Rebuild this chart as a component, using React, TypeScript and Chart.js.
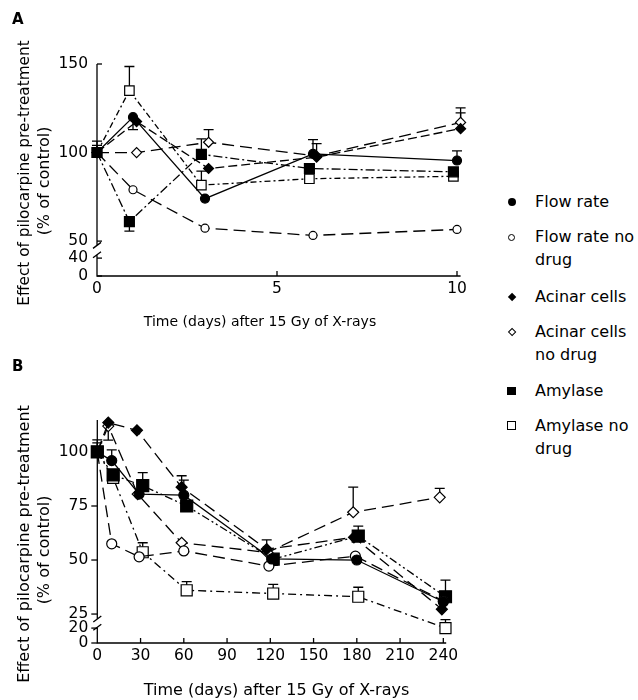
import React, { useEffect, useRef } from 'react';
import { Chart, registerables } from 'chart.js';
Chart.register(...registerables);

// ---------------- Panel A (days 0-10) ----------------
const daysFlowA = [0, 1, 3, 6, 10];
const daysAcinarA = [0, 1.1, 3.1, 6.1, 10.1];
const daysAmylaseA = [0, 0.9, 2.9, 5.9, 9.9];
const flowRateA = [100, 120, 74, 99.3, 95.5];
const flowRateNoDrugA = [100, 79, 57.3, 53.2, 56.6];
const acinarA = [100, 117.5, 91, 97.4, 113.5];
const acinarNoDrugA = [100, 100, 105.8, 98, 117];
const amylaseA = [100, 61, 99, 91, 89.1];
const amylaseNoDrugA = [100, 135, 81.6, 85.2, 86.6];
// error bar end values (one-sided)
const flowRateErrA = [106.4, 113, null, 107.3, 101];
const flowRateNoDrugErrA = [null, null, null, null, null];
const acinarErrA = [null, null, null, 105, 122.4];
const acinarNoDrugErrA = [104, null, 113, null, 125.2];
const amylaseErrA = [null, 55.6, 107.7, null, null];
const amylaseNoDrugErrA = [null, 148.6, 89.5, null, null];
const yTicksA = [0, 40, 50, 100, 150];
const xTicksA = [0, 5, 10];

// ---------------- Panel B (days 0-240) ----------------
const daysFlowB = [0, 10, 29, 60, 121, 180, 240];
const daysFlowNoDrugB = [0, 10, 29, 60, 119, 179, 240];
const daysAcinarB = [0, 7.6, 27.5, 58.5, 117.5, 178, 239];
const daysAcinarNoDrugB = [0, 7.6, 28, 58.5, 118, 177.5, 237.5];
const daysAmylaseB = [0, 11, 31.5, 62, 122, 181, 241.5];
const flowRateB = [100, 96, 80.5, 80, 50.5, 50, 30.7];
const flowRateNoDrugB = [100, 57.5, 51.5, 54.2, 47.2, 51.8, 31];
const acinarB = [100, 113.6, 110, 83.7, 55, 60.5, 27.2];
const acinarNoDrugB = [100, 112, 80.5, 58, 53.5, 72.1, 79];
const amylaseB = [100, 89.4, 84.4, 75, 50.4, 61.1, 33];
const amylaseNoDrugB = [100, 88, 53.6, 36, 34.5, 33, 20];
const flowRateErrB = [105.6, 101, null, 87, null, null, null];
const flowRateNoDrugErrB = [null, null, null, null, null, null, null];
const acinarErrB = [null, null, null, 89, 59.3, null, null];
const acinarNoDrugErrB = [104.2, 105.5, null, null, null, 83.7, 83.2];
const amylaseErrB = [null, null, 90.4, null, null, 65.7, 40.7];
const amylaseNoDrugErrB = [null, null, 58, 40, 38.7, 37.4, 23];
const yTicksB = [0, 20, 25, 50, 75, 100];
const xTicksB = [0, 30, 60, 90, 120, 150, 180, 210, 240];

const legendItems = [
  { lines: ['Flow rate'], marker: 'fcircle' },
  { lines: ['Flow rate no', 'drug'], marker: 'ocircle' },
  { lines: ['Acinar cells'], marker: 'fdiamond' },
  { lines: ['Acinar cells', 'no drug'], marker: 'odiamond' },
  { lines: ['Amylase'], marker: 'fsquare' },
  { lines: ['Amylase no', 'drug'], marker: 'osquare' },
];

const X_TITLE = 'Time (days) after 15 Gy of X-rays';
const Y_TITLE_1 = 'Effect of pilocarpine pre-treatment';
const Y_TITLE_2 = '(% of control)';

// broken-axis mappings (real value -> axis coordinate)
const toAxisA = (v: number) =>
  v >= 50 ? v : v >= 40 ? 40.4 + ((v - 40) / 10) * 9.6 : 30.3 + v * (10.1 / 40);
const toAxisB = (v: number) =>
  v >= 25 ? v : v >= 20 ? 18.5 + ((v - 20) / 5) * 6.5 : 11.6 + v * (6.9 / 20);

const FONT = '"DejaVu Sans", "Liberation Sans", Arial, sans-serif';

type Style = { dash: number[]; ps: string; fill: boolean; r: number };

function build(days: number[][], vals: number[][], errs: (number | null)[][], styles: Style[], toAxis: (v: number) => number) {
  return vals.map((v, k) => ({
    data: v.map((val, i) => ({ x: days[k][i], y: toAxis(val) })),
    errEnds: errs[k].map((e) => (e == null ? null : toAxis(e))),
    borderColor: '#000',
    borderWidth: 1.3,
    borderDash: styles[k].dash,
    pointStyle: styles[k].ps,
    pointRadius: styles[k].r,
    pointBackgroundColor: styles[k].fill ? '#000' : '#fff',
    pointBorderColor: '#000',
    pointBorderWidth: 1.2,
    fill: false,
    tension: 0,
    clip: false as any,
  }));
}

function framePlugin(cfg: any) {
  return {
    id: 'frame' + cfg.letter,
    beforeDatasetsDraw(chart: any) {
      const { ctx, chartArea: a } = chart;
      const xs = chart.scales.x;
      const ys = chart.scales.y;
      const L = a.left;
      const B = a.bottom;
      ctx.save();
      ctx.strokeStyle = '#000';
      ctx.fillStyle = '#000';
      ctx.lineWidth = 1.3;
      ctx.setLineDash([]);
      const b1 = ys.getPixelForValue(cfg.breakHi);
      const b2 = ys.getPixelForValue(cfg.breakLo);
      ctx.beginPath();
      ctx.moveTo(L, a.top);
      ctx.lineTo(L, b1);
      ctx.moveTo(L, b2);
      ctx.lineTo(L, B);
      ctx.lineTo(a.right, B);
      for (const p of [b1, b2]) {
        ctx.moveTo(L - 4, p + 3);
        ctx.lineTo(L + 4, p - 3);
      }
      ctx.stroke();
      ctx.font = cfg.tickFont;
      ctx.textAlign = 'right';
      ctx.textBaseline = 'middle';
      cfg.yTicks.forEach((t: number) => {
        const py = ys.getPixelForValue(cfg.toAxis(t));
        ctx.beginPath();
        ctx.moveTo(L, py);
        ctx.lineTo(L + cfg.yTickLen, py);
        ctx.stroke();
        ctx.fillText(String(t), L - 9, py);
      });
      ctx.textAlign = 'center';
      cfg.xTicks.forEach((t: number, i: number) => {
        const px = xs.getPixelForValue(t);
        if (i > 0) {
          ctx.beginPath();
          ctx.moveTo(px, B);
          ctx.lineTo(px, B - 5);
          ctx.stroke();
        }
        ctx.fillText(String(t), px, B + cfg.xLabelOffset);
      });
      // error bars
      chart.data.datasets.forEach((ds: any) => {
        ds.errEnds.forEach((e: number | null, i: number) => {
          if (e == null) return;
          const p = ds.data[i];
          const px = xs.getPixelForValue(p.x);
          const py0 = ys.getPixelForValue(p.y);
          const py1 = ys.getPixelForValue(e);
          ctx.beginPath();
          ctx.moveTo(px, py0);
          ctx.lineTo(px, py1);
          ctx.moveTo(px - 5, py1);
          ctx.lineTo(px + 5, py1);
          ctx.stroke();
        });
      });
      ctx.restore();
    },
    afterDraw(chart: any) {
      const { ctx } = chart;
      ctx.save();
      ctx.fillStyle = '#000';
      ctx.textBaseline = 'middle';
      ctx.textAlign = 'center';
      ctx.font = cfg.xTitleFont;
      ctx.fillText(X_TITLE, cfg.xTitleX, cfg.xTitleY);
      [[Y_TITLE_1, cfg.yT1x, cfg.yT1y, cfg.yTitleFont1], [Y_TITLE_2, cfg.yT2x, cfg.yT2y, cfg.yTitleFont2]].forEach(
        ([s, x, y, f]: any) => {
          ctx.save();
          ctx.font = f;
          ctx.translate(x, y);
          ctx.rotate(-Math.PI / 2);
          ctx.fillText(s, 0, 0);
          ctx.restore();
        }
      );
      ctx.font = 'bold 15px ' + FONT;
      ctx.textAlign = 'left';
      ctx.fillText(cfg.letter, 12, cfg.letterY);
      ctx.restore();
    },
  };
}

function Panel(props: any) {
  const ref = useRef<HTMLCanvasElement>(null);
  useEffect(() => {
    const chart = new Chart(ref.current as HTMLCanvasElement, {
      type: 'line',
      data: { datasets: props.makeDatasets() },
      options: {
        responsive: false,
        animation: false,
        devicePixelRatio: 1,
        events: [],
        layout: { padding: props.padding },
        plugins: { legend: { display: false }, tooltip: { enabled: false } },
        scales: {
          x: { type: 'linear', min: props.xMin, max: props.xMax, display: false },
          y: { type: 'linear', min: props.yMin, max: props.yMax, display: false },
        },
      } as any,
      plugins: [framePlugin(props.cfg)],
    });
    return () => chart.destroy();
  }, []);
  return (
    <canvas
      ref={ref}
      width={props.width}
      height={props.height}
      style={{ position: 'absolute', left: 0, top: props.top, width: props.width, height: props.height }}
    />
  );
}

const stylesA: Style[] = [
  { dash: [], ps: 'circle', fill: true, r: 4.5 },
  { dash: [12, 6], ps: 'circle', fill: false, r: 4 },
  { dash: [9, 4], ps: 'rectRot', fill: true, r: 5 },
  { dash: [12, 6], ps: 'rectRot', fill: false, r: 5 },
  { dash: [9, 3, 2, 3], ps: 'rect', fill: true, r: 7 },
  { dash: [6, 3, 2, 3], ps: 'rect', fill: false, r: 6.7 },
];
const stylesB: Style[] = [
  { dash: [], ps: 'circle', fill: true, r: 5 },
  { dash: [12, 6], ps: 'circle', fill: false, r: 5 },
  { dash: [12, 6], ps: 'rectRot', fill: true, r: 5.5 },
  { dash: [12, 6], ps: 'rectRot', fill: false, r: 5.5 },
  { dash: [8, 3, 2, 3, 2, 3], ps: 'rect', fill: true, r: 8.5 },
  { dash: [8, 4, 2, 4], ps: 'rect', fill: false, r: 7.8 },
];

const makeA = () =>
  build(
    [daysFlowA, daysFlowA, daysAcinarA, daysAcinarA, daysAmylaseA, daysAmylaseA],
    [flowRateA, flowRateNoDrugA, acinarA, acinarNoDrugA, amylaseA, amylaseNoDrugA],
    [flowRateErrA, flowRateNoDrugErrA, acinarErrA, acinarNoDrugErrA, amylaseErrA, amylaseNoDrugErrA],
    stylesA,
    toAxisA
  );
const makeB = () =>
  build(
    [daysFlowB, daysFlowNoDrugB, daysAcinarB, daysAcinarNoDrugB, daysAmylaseB, daysAmylaseB],
    [flowRateB, flowRateNoDrugB, acinarB, acinarNoDrugB, amylaseB, amylaseNoDrugB],
    [flowRateErrB, flowRateNoDrugErrB, acinarErrB, acinarNoDrugErrB, amylaseErrB, amylaseNoDrugErrB],
    stylesB,
    toAxisB
  );

const cfgA = {
  letter: 'A',
  letterY: 20,
  toAxis: toAxisA,
  yTicks: yTicksA,
  xTicks: xTicksA,
  breakHi: toAxisA(47.5),
  breakLo: toAxisA(42),
  yTickLen: 5,
  xLabelOffset: 13,
  tickFont: '15.5px ' + FONT,
  xTitleFont: '14px ' + FONT,
  xTitleX: 260,
  xTitleY: 322,
  yTitleFont1: '15.3px ' + FONT,
  yTitleFont2: '16px ' + FONT,
  yT1x: 25,
  yT1y: 173,
  yT2x: 45,
  yT2y: 181,
};
const cfgB = {
  letter: 'B',
  letterY: 27,
  toAxis: toAxisB,
  yTicks: yTicksB,
  xTicks: xTicksB,
  breakHi: toAxisB(23.2),
  breakLo: toAxisB(20.3),
  yTickLen: -6,
  xLabelOffset: 12.5,
  tickFont: '15.5px ' + FONT,
  xTitleFont: '16px ' + FONT,
  xTitleX: 276.5,
  xTitleY: 350.5,
  yTitleFont1: '16px ' + FONT,
  yTitleFont2: '16px ' + FONT,
  yT1x: 25,
  yT1y: 204,
  yT2x: 45,
  yT2y: 210,
};

function Marker({ kind, cx, cy }: { kind: string; cx: number; cy: number }) {
  const filled = kind[0] === 'f';
  const shape = kind.slice(1);
  let size = 8;
  const st: any = { position: 'absolute', boxSizing: 'border-box' };
  if (shape === 'circle') {
    size = filled ? 8 : 7.5;
    st.borderRadius = '50%';
  } else if (shape === 'diamond') {
    size = 6.2;
    st.transform = 'rotate(45deg)';
  } else {
    size = 8.5;
  }
  st.width = size;
  st.height = size;
  st.left = cx - size / 2;
  st.top = cy - size / 2;
  if (filled) st.background = '#000';
  else {
    st.background = '#fff';
    st.border = '1.3px solid #000';
  }
  return <div style={st} />;
}

export default function App() {
  const baselines = [207.3, 242.3, 302.3, 337.3, 396, 430.7];
  return (
    <div style={{ position: 'absolute', left: 0, top: 0, width: 638, height: 700, background: '#fff' }}>
      <Panel
        cfg={cfgA}
        makeDatasets={makeA}
        width={470}
        height={340}
        top={0}
        xMin={0}
        xMax={10.1}
        yMin={30.3}
        yMax={150}
        padding={{ left: 97, right: 9.4, top: 64, bottom: 64 }}
      />
      <Panel
        cfg={cfgB}
        makeDatasets={makeB}
        width={470}
        height={360}
        top={340}
        xMin={0}
        xMax={242}
        yMin={11.6}
        yMax={114.8}
        padding={{ left: 97.3, right: 23.8, top: 80, bottom: 57 }}
      />
      {legendItems.map((it, i) => (
        <React.Fragment key={i}>
          <Marker kind={it.marker} cx={511.7} cy={baselines[i] - 5} />
          <div
            style={{
              position: 'absolute',
              left: 535,
              top: baselines[i] - 17,
              font: '16px ' + FONT,
              lineHeight: '23px',
              color: '#000',
              whiteSpace: 'nowrap',
            }}
          >
            {it.lines.map((l, j) => (
              <div key={j}>{l}</div>
            ))}
          </div>
        </React.Fragment>
      ))}
    </div>
  );
}
